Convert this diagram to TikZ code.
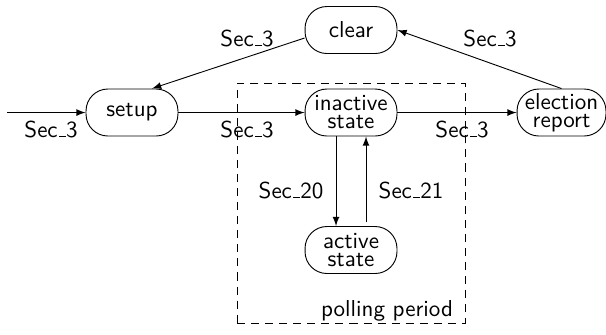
\documentclass[tikz,border=0pt]{standalone}
\usetikzlibrary{arrows}
\newcommand\usc{\leavevmode\kern.06em\vbox{\hrule width.3em}}
\begin{document}
\begin{tikzpicture}[x=0.434pt,y=-0.434pt,
  every node/.style={font=\sffamily},
  stbox/.style={draw,rectangle,rounded corners=9.5pt,minimum width=39.9pt,minimum height=20.4pt,inner sep=1pt,align=center},
  lbl/.style={inner sep=0pt},
  arr/.style={-latex}]
\useasboundingbox (0,0) rectangle (606,334);
% dashed region
\node[draw,dash pattern=on 3.5pt off 2.6pt,rectangle,minimum width=228*0.434pt,minimum height=240*0.434pt,inner sep=0pt] (poll) at (351,203) {};
\node[lbl] (pl) at (387,311) {polling period};
% states
\node[stbox] (clear) at (351,30) {clear};
\node[stbox] (setup) at (132,112.5) {setup};
\node[stbox] (inactive) at (351,112.5) {inactive\\[-4.2pt]state};
\node[stbox,minimum width=38.6pt] (election) at (561.5,112.5) {election\\[-4.2pt]report};
\node[stbox] (active) at (351,250) {active\\[-4.2pt]state};
\coordinate (start) at (7,112.5);
% connectors
\draw[arr] (start) -- (setup.west);
\draw[arr] (setup.east) -- (inactive.west);
\draw[arr] (inactive.east) -- (election.west);
\draw[arr] ([yshift=-8*0.434pt]clear.west) -- ([xshift=20*0.434pt]setup.north);
\draw[arr] (election.north) -- (clear.east);
\draw[arr] ([xshift=-15*0.434pt]inactive.south) -- ([xshift=-15*0.434pt]active.north);
\draw[arr] ([xshift=15*0.434pt,yshift=4*0.434pt]active.north) -- ([xshift=15*0.434pt]inactive.south);
% labels
\node[lbl] (l1) at (51,129) {Sec\usc 3};
\node[lbl] (l2) at (247,129) {Sec\usc 3};
\node[lbl] (l3) at (247,38) {Sec\usc 3};
\node[lbl] (l4) at (490,38) {Sec\usc 3};
\node[lbl] (l5) at (462,129) {Sec\usc 3};
\node[lbl] (l6) at (291,190) {Sec\usc 20};
\node[lbl] (l7) at (411,190) {Sec\usc 21};
\end{tikzpicture}
\end{document}
